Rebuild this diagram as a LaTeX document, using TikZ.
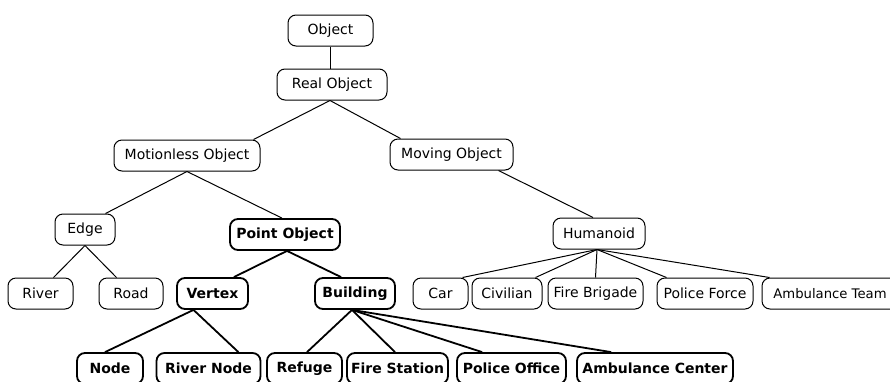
\documentclass[tikz,border=0pt]{standalone}
\usepackage{fontspec}
\setmainfont{DejaVu Sans}
\begin{document}
\begin{tikzpicture}[x=1pt,y=-1pt,
  box/.style={draw=black, rounded corners=8pt, line width=1pt, minimum height=31pt,
    inner sep=0pt, font=\fontsize{14}{16}\selectfont, text=black},
  bbox/.style={box, line width=1.8pt, font=\fontsize{14}{16}\selectfont\bfseries},
  link/.style={line width=1pt},
  blink/.style={line width=1.8pt}]
\useasboundingbox[fill=white] (0,0) rectangle (890,381);

% level 0-1
\node[box, minimum width=85] (obj) at (330.5,30.5) {Object};
\node[box, minimum width=110] (ro) at (332,84.5) {Real Object};
% level 2
\node[box, minimum width=146] (mot) at (187,155.5) {Motionless Object};
\node[box, minimum width=123] (mov) at (451.5,154.5) {Moving Object};
% level 3
\node[box, minimum width=60] (edge) at (85,229.5) {Edge};
\node[bbox, minimum width=110] (po) at (285,234.5) {Point Object};
\node[box, minimum width=92] (hum) at (599,233.5) {Humanoid};
% level 4
\node[box, minimum width=65] (river) at (40.5,293.5) {River};
\node[box, minimum width=64] (road) at (131,293.5) {Road};
\node[bbox, minimum width=71] (vtx) at (212.5,293.5) {Vertex};
\node[bbox, minimum width=80] (bld) at (355,293.5) {Building};
\node[box, minimum width=55] (car) at (440.5,293.5) {Car};
\node[box, minimum width=70] (civ) at (507,293.5) {Civilian};
\node[box, minimum width=95] (fb) at (595.5,293.5) {Fire Brigade};
\node[box, minimum width=96] (pf) at (705,293.5) {Police Force};
\node[box, minimum width=136, font=\fontsize{13.2}{16}\selectfont] (at) at (830,293.5) {Ambulance Team};
% level 5
\node[bbox, minimum width=66] (nd) at (110,368.5) {Node};
\node[bbox, minimum width=104] (rn) at (208.5,368.5) {River Node};
\node[bbox, minimum width=75] (ref) at (304.5,368.5) {Refuge};
\node[bbox, minimum width=101] (fs) at (397.5,368.5) {Fire Station};
\node[bbox, minimum width=109] (pof) at (511.5,368.5) {Police Office};
\node[bbox, minimum width=156] (ac) at (655,368.5) {Ambulance Center};

% connectors
\draw[link] (obj.south) -- (obj.south |- ro.north);
\draw[link] ([xshift=-2pt]ro.south) -- ([xshift=-7pt]mot.north east);
\draw[link] ([xshift=-2pt]ro.south) -- ([xshift=11pt]mov.north west);
\draw[link] (mot.south) -- ([xshift=-10pt]edge.north east);
\draw[link] (mot.south) -- ([xshift=-3pt]po.north);
\draw[link] ([xshift=-15pt]mov.south east) -- ([xshift=-6pt]hum.north);
\draw[link] (edge.south) -- ([xshift=-20pt]river.north east);
\draw[link] (edge.south) -- ([xshift=18pt]road.north west);
\draw[blink] ([xshift=2pt]po.south) -- ([xshift=-15pt]vtx.north east);
\draw[blink] ([xshift=2pt]po.south) -- ([xshift=27pt]bld.north west);
\foreach \t/\s/\a in {car/-6pt/north east, civ/-7pt/north east, fb/0pt/north, pf/10pt/north west, at/8pt/north west}
  \draw[link] ([xshift=-2pt]hum.south) -- ([xshift=\s]\t.\a);
\draw[blink] ([xshift=-19pt]vtx.south) -- ([xshift=-5pt]nd.north);
\draw[blink] ([xshift=-19pt]vtx.south) -- ([xshift=-23pt]rn.north east);
\draw[blink] ([xshift=-3pt]bld.south) -- ([xshift=2.5pt]ref.north);
\draw[blink] ([xshift=-3pt]bld.south) -- ([xshift=-2.5pt]fs.north);
\draw[blink] ([xshift=-3pt]bld.south) -- ([xshift=26pt]pof.north west);
\draw[blink] ([xshift=-3pt]bld.south) -- ([xshift=35pt]ac.north west);
\end{tikzpicture}
\end{document}
